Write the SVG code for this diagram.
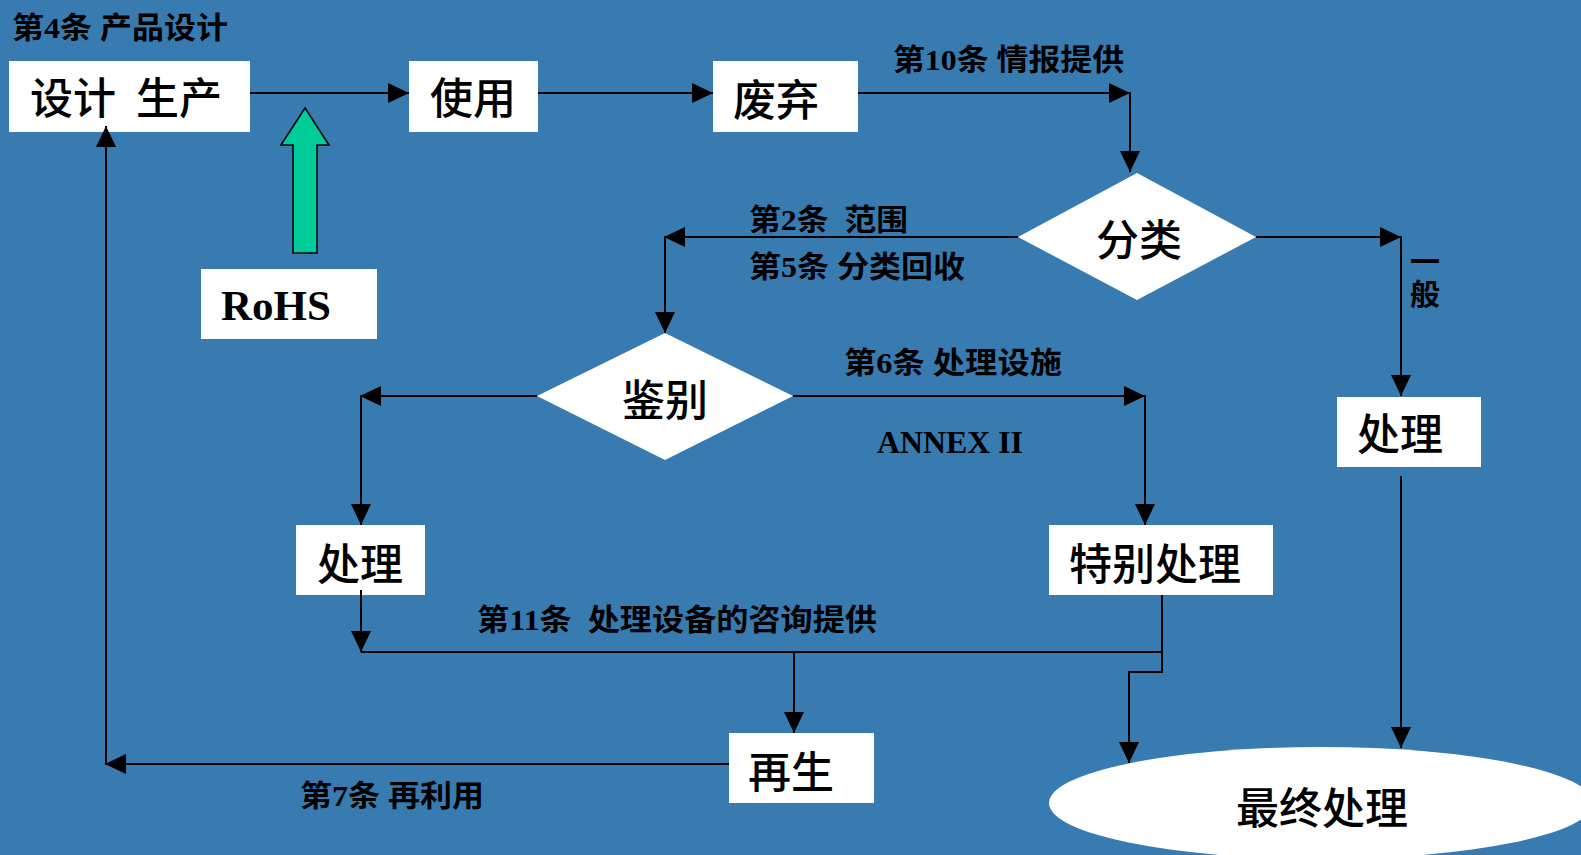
<svg xmlns="http://www.w3.org/2000/svg" width="1581" height="855" viewBox="0 0 1581 855">
<style>
.bg{fill:#377BB1}
.node{fill:#fff}
.box{font-family:"Noto Sans CJK SC",sans-serif;font-size:43px;font-weight:500;fill:#000}
.lbl{font-family:"Liberation Serif","Noto Sans CJK SC",sans-serif;font-size:30px;font-weight:bold;fill:#000}
.ser{font-family:"Liberation Serif",serif;font-weight:bold;fill:#000}
.ln{fill:none;stroke:#000;stroke-width:2}
</style>
<defs>
<marker id="ah" markerUnits="userSpaceOnUse" markerWidth="22" markerHeight="22" refX="21" refY="10" orient="auto" viewBox="0 0 22 20">
<path d="M0,0 L21,10 L0,20 z" fill="#000"/>
</marker>
</defs>
<rect class="bg" x="0" y="0" width="1581" height="855"/>

<g id="n-design">
<rect class="node" x="9" y="61" width="241" height="71"/>
<text class="box"><tspan x="30" y="114">设计</tspan><tspan x="136" y="114">生产</tspan></text>
</g>
<g id="n-use">
<rect class="node" x="409" y="61" width="129" height="71"/>
<text class="box" x="430" y="114">使用</text>
</g>
<g id="n-waste">
<rect class="node" x="713" y="61" width="145" height="71"/>
<text class="box" x="733" y="116">废弃</text>
</g>
<g id="n-classify">
<polygon class="node" points="1018,237 1137,173 1256,237 1137,300"/>
<text class="box" x="1096" y="256">分类</text>
</g>
<g id="n-identify">
<polygon class="node" points="537,396 665,333 793,396 665,460"/>
<text class="box" x="622" y="416">鉴别</text>
</g>
<g id="n-treat-right">
<rect class="node" x="1337" y="397" width="144" height="70"/>
<text class="box" x="1357" y="450">处理</text>
</g>
<g id="n-treat-left">
<rect class="node" x="296" y="525" width="129" height="70"/>
<text class="box" x="317" y="580">处理</text>
</g>
<g id="n-special">
<rect class="node" x="1049" y="525" width="224" height="70"/>
<text class="box" x="1069" y="580">特别处理</text>
</g>
<g id="n-recycle">
<rect class="node" x="729" y="733" width="145" height="70"/>
<text class="box" x="748" y="788">再生</text>
</g>
<g id="n-final">
<ellipse class="node" cx="1321" cy="803" rx="272" ry="56"/>
<text class="box" x="1236" y="824">最终处理</text>
</g>
<g id="n-rohs">
<rect class="node" x="201" y="269" width="176" height="70"/>
<text class="ser" x="221" y="320" font-size="43">RoHS</text>
</g>
<g id="n-rohs-arrow">
<polygon points="305,108 329,145 317,145 317,253 293,253 293,145 281,145" fill="#00CC99" stroke="#000" stroke-width="1.5"/>
</g>

<g id="labels">
<text class="lbl" x="12" y="38" textLength="216" lengthAdjust="spacingAndGlyphs">第4条 产品设计</text>
<text class="lbl" x="893" y="70" textLength="231" lengthAdjust="spacingAndGlyphs">第10条 情报提供</text>
<text class="lbl" x="749" y="230" textLength="159" lengthAdjust="spacingAndGlyphs" xml:space="preserve">第2条  范围</text>
<text class="lbl" x="749" y="277" textLength="216" lengthAdjust="spacingAndGlyphs">第5条 分类回收</text>
<text class="lbl" x="844" y="373" textLength="218" lengthAdjust="spacingAndGlyphs">第6条 处理设施</text>
<text class="ser" x="877" y="453" font-size="31" textLength="146" lengthAdjust="spacingAndGlyphs">ANNEX II</text>
<text class="lbl" x="477" y="630" textLength="400" lengthAdjust="spacingAndGlyphs" xml:space="preserve">第11条  处理设备的咨询提供</text>
<text class="lbl" x="300" y="806" textLength="184" lengthAdjust="spacingAndGlyphs">第7条 再利用</text>
<text class="lbl"><tspan x="1410" y="272">一</tspan><tspan x="1410" y="305">般</tspan></text>
</g>

<g id="connectors">
<line class="ln" x1="250" y1="93" x2="409" y2="93" marker-end="url(#ah)"/>
<line class="ln" x1="538" y1="93" x2="713" y2="93" marker-end="url(#ah)"/>
<line class="ln" x1="858" y1="93" x2="1130" y2="93" marker-end="url(#ah)"/>
<line class="ln" x1="1130" y1="92" x2="1130" y2="172" marker-end="url(#ah)"/>
<line class="ln" x1="1256" y1="237" x2="1401" y2="237" marker-end="url(#ah)"/>
<line class="ln" x1="1401" y1="236" x2="1401" y2="396" marker-end="url(#ah)"/>
<line class="ln" x1="1401" y1="476" x2="1401" y2="748" marker-end="url(#ah)"/>
<line class="ln" x1="1018" y1="237" x2="664" y2="237" marker-end="url(#ah)"/>
<line class="ln" x1="665" y1="236" x2="665" y2="333" marker-end="url(#ah)"/>
<line class="ln" x1="537" y1="396" x2="360" y2="396" marker-end="url(#ah)"/>
<line class="ln" x1="361" y1="395" x2="361" y2="525" marker-end="url(#ah)"/>
<line class="ln" x1="793" y1="396" x2="1145" y2="396" marker-end="url(#ah)"/>
<line class="ln" x1="1145" y1="395" x2="1145" y2="525" marker-end="url(#ah)"/>
<line class="ln" x1="361" y1="590" x2="361" y2="652" marker-end="url(#ah)"/>
<line class="ln" x1="361" y1="652" x2="1162" y2="652"/>
<line class="ln" x1="794" y1="652" x2="794" y2="733" marker-end="url(#ah)"/>
<polyline class="ln" points="1162,595 1162,672 1129,672 1129,763" marker-end="url(#ah)"/>
<line class="ln" x1="729" y1="764" x2="105" y2="764" marker-end="url(#ah)"/>
<line class="ln" x1="106" y1="765" x2="106" y2="126" marker-end="url(#ah)"/>
</g>
</svg>
